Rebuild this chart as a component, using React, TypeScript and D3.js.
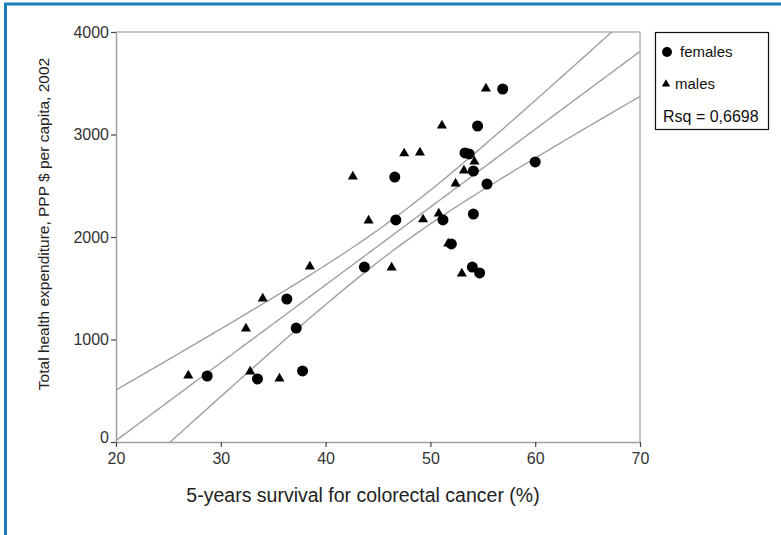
import { useRef, useEffect } from 'react';
import * as d3 from 'd3';

// 5-year survival (%) and health expenditure
const femaleSurvival = [28.7, 33.5, 36.3, 37.2, 37.8, 43.7, 46.6, 46.7, 51.2, 52.0, 54.1, 54.0, 54.7, 53.3, 53.7, 54.1, 54.5, 55.4, 56.9, 60.0];
const femaleSpend = [644, 615, 1395, 1112, 693, 1707, 2585, 2166, 2166, 1932, 2224, 1707, 1649, 2820, 2810, 2644, 3083, 2517, 3444, 2732];
const maleSurvival = [26.9, 32.4, 34.0, 38.5, 32.8, 35.6, 42.6, 44.1, 46.3, 47.5, 49.0, 51.1, 49.3, 50.8, 51.7, 52.4, 53.2, 54.2, 53.0, 55.3];
const maleSpend = [654, 1112, 1405, 1717, 693, 624, 2595, 2166, 1707, 2820, 2829, 3093, 2176, 2234, 1941, 2527, 2654, 2741, 1649, 3454];

const xTicks = [20, 30, 40, 50, 60, 70];
const yTicks = [0, 1000, 2000, 3000, 4000];
const legendLabels = ['females', 'males', 'Rsq = 0,6698'];

const W = 781;
const H = 535;
const margin = { left: 116, right: 141, top: 32, bottom: 93 };
const FONT = '"Liberation Sans", Arial, sans-serif';

export default function App() {
  const svgRef = useRef<SVGSVGElement>(null);

  useEffect(() => {
    const svg = d3.select(svgRef.current);
    svg.selectAll('*').remove();

    const innerW = W - margin.left - margin.right;
    const innerH = H - margin.top - margin.bottom;

    const x = d3.scaleLinear().domain([20, 70]).range([0, innerW]);
    const y = d3.scaleLinear().domain([0, 4000]).range([innerH, 0]);

    // blue frame
    svg.append('line').attr('x1', 5.5).attr('x2', 5.5).attr('y1', 3).attr('y2', H)
      .attr('stroke', '#1b7cc0').attr('stroke-width', 3);
    svg.append('line').attr('x1', 4).attr('x2', W).attr('y1', 4).attr('y2', 4)
      .attr('stroke', '#1b7cc0').attr('stroke-width', 3);

    const g = svg.append('g').attr('transform', `translate(${margin.left},${margin.top})`);

    svg.append('defs').append('clipPath').attr('id', 'plotclip')
      .append('rect').attr('width', innerW).attr('height', innerH);

    // regression on all points with 95% CI of the mean
    const xs = [...femaleSurvival, ...maleSurvival];
    const ys = [...femaleSpend, ...maleSpend];
    const n = xs.length;
    const xbar = d3.mean(xs)!;
    const ybar = d3.mean(ys)!;
    const sxx = d3.sum(xs, (v) => (v - xbar) ** 2);
    const sxy = d3.sum(xs, (v, i) => (v - xbar) * (ys[i] - ybar));
    const b = sxy / sxx;
    const a = ybar - b * xbar;
    const sse = d3.sum(xs, (v, i) => (ys[i] - a - b * v) ** 2);
    const s = Math.sqrt(sse / (n - 2));
    const t = 2.024;
    const grid = d3.range(20, 70.01, 0.5);
    const fit = (v: number) => a + b * v;
    const half = (v: number) => t * s * Math.sqrt(1 / n + (v - xbar) ** 2 / sxx);

    const line = d3.line<number[]>().x((d) => x(d[0])).y((d) => y(d[1])).curve(d3.curveMonotoneX);
    const curves = [
      grid.map((v) => [v, fit(v) + half(v)]),
      grid.map((v) => [v, fit(v)]),
      grid.map((v) => [v, fit(v) - half(v)]),
    ];

    // frame top/right
    g.append('line').attr('x1', 0).attr('x2', innerW).attr('y1', 0).attr('y2', 0)
      .attr('stroke', '#b4b4b4').attr('stroke-width', 1.5);
    g.append('line').attr('x1', innerW).attr('x2', innerW).attr('y1', 0).attr('y2', innerH)
      .attr('stroke', '#b4b4b4').attr('stroke-width', 1.5);

    g.append('g').attr('clip-path', 'url(#plotclip)')
      .selectAll('path').data(curves).join('path')
      .attr('d', (d) => line(d as any))
      .attr('fill', 'none').attr('stroke', '#a0a0a0').attr('stroke-width', 1.4);

    // axes
    const xAxis = g.append('g').attr('transform', `translate(0,${innerH})`)
      .call(d3.axisBottom(x).tickValues(xTicks).tickSize(5).tickSizeOuter(0));
    const yAxis = g.append('g')
      .call(d3.axisLeft(y).tickValues(yTicks).tickFormat(d3.format('d')).tickSize(5).tickSizeOuter(0));
    [xAxis, yAxis].forEach((ax) => {
      ax.select('.domain').attr('stroke', '#a0a0a0').attr('stroke-width', 1.5);
      ax.selectAll('.tick line').attr('stroke', '#444').attr('stroke-width', 1.2);
      ax.selectAll('.tick text').attr('font-family', FONT).attr('font-size', 16).attr('fill', '#333');
    });
    xAxis.selectAll('.tick text').attr('dy', '0.9em');
    yAxis.selectAll('.tick text').attr('x', -7).attr('dy', (d: any) => (d === 0 ? '0' : '0.32em'));

    // points
    g.selectAll('circle.f').data(femaleSurvival).join('circle').attr('class', 'f')
      .attr('cx', (d) => x(d)).attr('cy', (_d, i) => y(femaleSpend[i])).attr('r', 5.5).attr('fill', '#000');
    const tri = d3.symbol().type(d3.symbolTriangle).size(44);
    g.selectAll('path.m').data(maleSurvival).join('path').attr('class', 'm')
      .attr('d', tri()!)
      .attr('transform', (d, i) => `translate(${x(d)},${y(maleSpend[i]) + 0.5})`)
      .attr('fill', '#000');

    // axis titles
    svg.append('text').attr('x', 363).attr('y', 502).attr('text-anchor', 'middle')
      .attr('font-family', FONT).attr('font-size', 19.5).attr('fill', '#222')
      .text('5-years survival for colorectal cancer (%)');
    svg.append('text').attr('transform', `translate(49,224) rotate(-90)`).attr('text-anchor', 'middle')
      .attr('font-family', FONT).attr('font-size', 15.5).attr('fill', '#222')
      .text('Total health expenditure, PPP $ per capita, 2002');

    // legend
    const lg = svg.append('g').attr('transform', 'translate(655,32)');
    lg.append('rect').attr('x', 0.5).attr('y', 0.5).attr('width', 113).attr('height', 97)
      .attr('fill', '#fff').attr('stroke', '#111').attr('stroke-width', 1.2);
    lg.append('circle').attr('cx', 12).attr('cy', 20).attr('r', 5).attr('fill', '#000');
    lg.append('path').attr('d', d3.symbol().type(d3.symbolTriangle).size(30)()!)
      .attr('transform', 'translate(11,52)').attr('fill', '#000');
    lg.selectAll('text').data(legendLabels).join('text')
      .attr('x', (_d, i) => [25, 20, 8][i]).attr('y', (_d, i) => 20 + i * 32).attr('dy', '0.35em')
      .attr('font-family', FONT).attr('font-size', (_d, i) => (i === 2 ? 16 : 15)).attr('fill', '#111')
      .text((d) => d);
  }, []);

  return <svg ref={svgRef} width={W} height={H} style={{ position: 'absolute', left: 0, top: 0, background: '#fff' }} />;
}
